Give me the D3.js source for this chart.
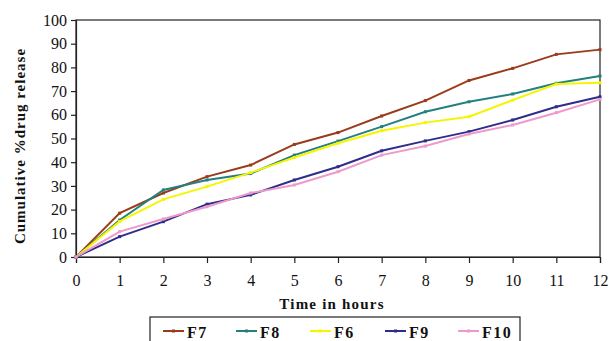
<!DOCTYPE html>
<html><head><meta charset="utf-8">
<script src="https://cdn.jsdelivr.net/npm/d3@7"></script>
<style>body{margin:0;background:#fff}svg{display:block}</style>
</head><body>
<svg id="c" width="610" height="341"></svg>
<script>
const hours = [0,1,2,3,4,5,6,7,8,9,10,11,12];
const F7  = [0,18.5,27,33.9,38.8,47.5,52.5,59.5,66,74.5,79.6,85.5,87.5];
const F8  = [0,15.6,28.3,32.5,35.2,43,48.9,55,61.3,65.5,68.8,73.3,76.4];
const F6  = [0,15,24.3,29.7,35.6,42,48,53.3,56.7,59.2,66.2,73,73.5];
const F9  = [0,8.6,14.9,22.3,26.2,32.5,38.1,44.8,49,52.9,57.8,63.4,67.6];
const F10 = [0,10.7,16,21.2,27,30.4,36,43,46.8,51.9,55.7,60.9,66.5];
const seriesNames = ["F7","F8","F6","F9","F10"];
const seriesColors = ["#9a3b1c","#23807f","#f5f500","#2e2e8a","#ee99cc"];
const seriesValues = [F7,F8,F6,F9,F10];
const yTicks = [0,10,20,30,40,50,60,70,80,90,100];

const svg = d3.select("#c");
const L=76,R=600,T=20,B=257;
const x = d3.scaleLinear().domain([0,12]).range([L,R]);
const y = d3.scaleLinear().domain([0,100]).range([B,T]);
const font = "Liberation Serif";

svg.append("rect").attr("x",L).attr("y",T).attr("width",R-L).attr("height",B-T)
  .attr("fill","none").attr("stroke","#222").attr("stroke-width",1.2);

const ya = svg.append("g").attr("transform",`translate(${L},0)`)
  .call(d3.axisLeft(y).tickValues(yTicks).tickSize(5).tickPadding(4));
const xa = svg.append("g").attr("transform",`translate(0,${B})`)
  .call(d3.axisBottom(x).tickValues(hours).tickSize(6).tickPadding(12));
[ya,xa].forEach(g=>{
  g.attr("font-family",font);
  g.selectAll("path").attr("stroke","#222").attr("stroke-width",1.2);
  g.selectAll("line").attr("stroke","#222").attr("stroke-width",1.2);
  g.selectAll("text").attr("font-family",font).attr("font-size",16).attr("fill","#111");
});

const line = d3.line().x((d,i)=>x(hours[i])).y(d=>y(d));
seriesValues.forEach((vals,k)=>{
  svg.append("path").datum(vals).attr("d",line).attr("fill","none")
    .attr("stroke",seriesColors[k]).attr("stroke-width",2);
  svg.selectAll(null).data(vals).enter().append("rect")
    .attr("x",(d,i)=>x(hours[i])-1.5).attr("y",d=>y(d)-1.5)
    .attr("width",3).attr("height",3).attr("fill",seriesColors[k]);
});

svg.append("text").attr("x",332).attr("y",309).attr("text-anchor","middle")
  .attr("font-family",font).attr("font-weight","bold").attr("font-size",15)
  .attr("letter-spacing",1.2).attr("fill","#111").text("Time in hours");
svg.append("text").attr("transform","translate(25,146) rotate(-90)").attr("text-anchor","middle")
  .attr("font-family",font).attr("font-weight","bold").attr("font-size",15)
  .attr("letter-spacing",1).attr("fill","#111").text("Cumulative %drug release");

svg.append("rect").attr("x",150).attr("y",317).attr("width",370).attr("height",30)
  .attr("fill","#fff").attr("stroke","#222").attr("stroke-width",1.2);
const lx = [163,236,310,385,458];
seriesNames.forEach((n,k)=>{
  const g = svg.append("g");
  g.append("line").attr("x1",lx[k]).attr("x2",lx[k]+21).attr("y1",331).attr("y2",331)
    .attr("stroke",seriesColors[k]).attr("stroke-width",2);
  g.append("rect").attr("x",lx[k]+9).attr("y",329.5).attr("width",3).attr("height",3).attr("fill",seriesColors[k]);
  g.append("text").attr("x",lx[k]+24).attr("y",338).attr("font-family",font).attr("font-weight","bold")
    .attr("font-size",16).attr("letter-spacing",1.5).attr("fill","#111").text(n);
});
</script>
</body></html>
